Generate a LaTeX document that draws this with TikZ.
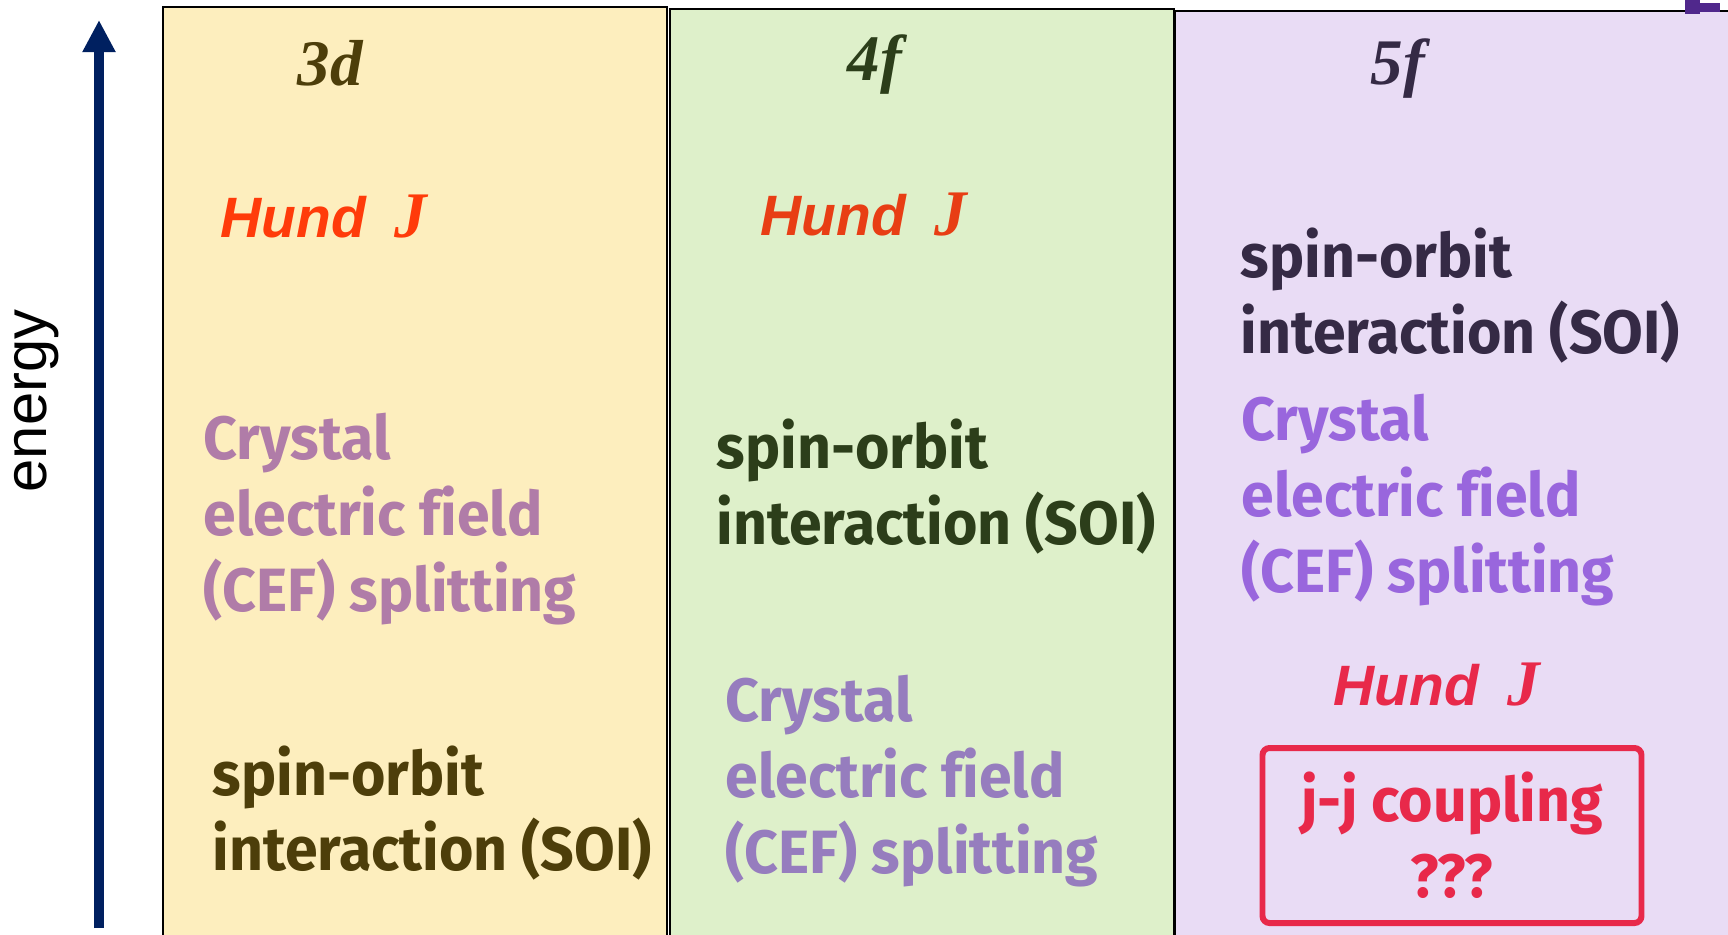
\documentclass[tikz,border=0pt]{standalone}
\usepackage{fontspec}
\setmainfont[Ligatures=NoCommon, FakeStretch=0.965]{Fira Sans}
\newfontfamily\arialfont{Liberation Sans}
\newfontfamily\timesfont{Liberation Serif}
\usetikzlibrary{arrows.meta}

\definecolor{yellowbg}{RGB}{253,238,190}
\definecolor{greenbg}{RGB}{222,240,202}
\definecolor{purplebg}{RGB}{233,220,245}
\definecolor{olive}{RGB}{77,62,10}
\definecolor{darkgreen}{RGB}{44,62,26}
\definecolor{darkplum}{RGB}{53,42,69}
\definecolor{hundred}{RGB}{255,59,10}
\definecolor{hundred2}{RGB}{232,62,20}
\definecolor{crimson}{RGB}{232,41,74}
\definecolor{mauve}{RGB}{176,124,168}
\definecolor{lavender}{RGB}{150,125,190}
\definecolor{violet}{RGB}{153,102,221}
\definecolor{navy}{RGB}{0,32,96}
\definecolor{corner}{RGB}{80,40,140}

\tikzset{
  shell/.style={draw=black, line width=0.6pt},
  orb/.style={font=\timesfont\bfseries\itshape\fontsize{18.5}{20}\selectfont, inner sep=0pt},
  term/.style={font=\bfseries\fontsize{17.4}{21.6}\selectfont, align=left, anchor=west, inner sep=0pt},
  hund/.style={font=\arialfont\bfseries\itshape\fontsize{16.2}{18}\selectfont, anchor=west, inner sep=0pt},
}
\newcommand{\hundJ}{Hund\hspace{0.5em}{\timesfont\fontsize{18.5}{18}\selectfont J}}

\begin{document}
\begin{tikzpicture}
 \clip (0,0) rectangle (17.28,-9.34);
 \fill[white] (0,0) rectangle (17.28,-9.34);

	% Colonnes
 \draw[shell, fill=yellowbg] (1.63,-0.07) rectangle (6.67,-9.6);
 \draw[shell, fill=greenbg] (6.70,-0.09) rectangle (11.74,-9.6);
 \draw[shell, fill=purplebg] (11.75,-0.11) rectangle (17.6,-9.6);
 \fill[corner] (16.85,0) rectangle (17.0,-0.14);
 \fill[corner] (17.0,-0.03) rectangle (17.2,-0.12);

	% Axe d'energie
 \coordinate (bas) at (0.99,-9.28);
 \coordinate (haut) at (0.99,-0.2);
 \draw[navy, line width=2.85pt, -{Triangle[length=0.32cm, width=0.31cm]}] (bas) -- (haut);
 \node[rotate=90, font=\arialfont\fontsize{17}{20}\selectfont, inner sep=0pt] (energy) at (0.37,-4.01) {energy};

	% 3d
 \node[orb, text=olive] (d) at (3.30,-0.63) {3d};
 \node[hund, text=hundred] (hd) at (2.20,-2.17) {\hundJ};
 \node[term, text=mauve] (cefd) at (2.03,-5.19) {Crystal\\electric field\\(CEF) splitting};
 \node[term, text=olive] (soid) at (2.12,-8.13) {spin-orbit\\interaction (SOI)};

	% 4f
 \node[orb, text=darkgreen] (f4) at (8.75,-0.65) {4f};
 \node[hund, text=hundred2] (hf4) at (7.60,-2.15) {\hundJ};
 \node[term, text=darkgreen] (soif4) at (7.16,-4.87) {spin-orbit\\interaction (SOI)};
 \node[term, text=lavender] (ceff4) at (7.25,-7.81) {Crystal\\electric field\\(CEF) splitting};

	% 5f
 \node[orb, text=darkplum] (f5) at (13.98,-0.69) {5f};
 \node[term, text=darkplum] (soif5) at (12.40,-2.96) {spin-orbit\\interaction (SOI)};
 \node[term, text=violet] (ceff5) at (12.41,-5.00) {Crystal\\electric field\\(CEF) splitting};
 \node[hund, text=crimson] (hf5) at (13.33,-6.85) {\hundJ};
 \node[term, anchor=center, align=center, text=crimson, draw=crimson, line width=1.7pt,
   rounded corners=2pt, minimum width=3.79cm, minimum height=1.75cm] (jj) at (14.52,-8.355) {j-j coupling\\???};

\end{tikzpicture}
\end{document}
